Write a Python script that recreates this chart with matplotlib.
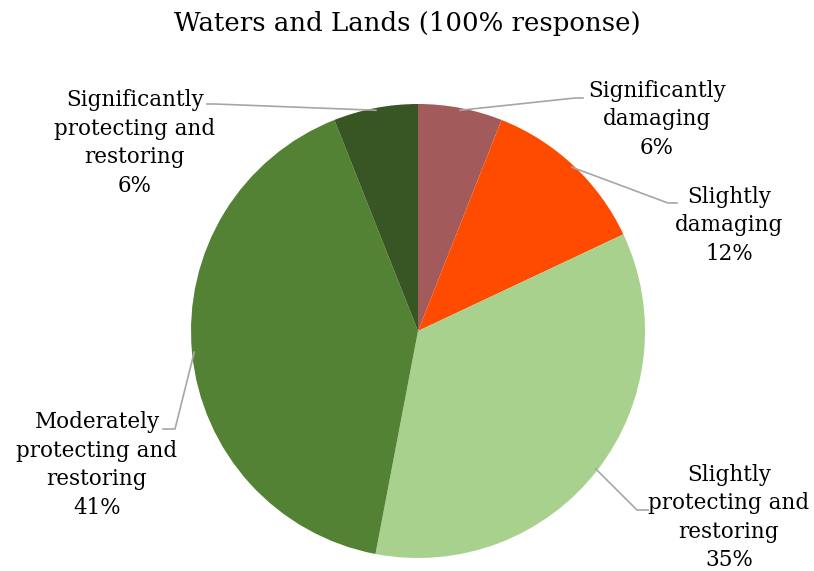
import matplotlib
matplotlib.use("Agg")
import matplotlib.pyplot as plt
import numpy as np

title = "Waters and Lands (100% response)"
labels = ["Significantly\ndamaging", "Slightly\ndamaging",
          "Slightly\nprotecting and\nrestoring", "Moderately\nprotecting and\nrestoring",
          "Significantly\nprotecting and\nrestoring"]
values = [6, 12, 35, 41, 6]
colors = ["#A35A5A", "#FF4B00", "#A9D18E", "#548235", "#375623"]

# label anchor (centre x, first baseline) and leader elbow / end, figure pixels from top-left
label_pos = [(657, 97), (729, 203), (729, 481), (97, 428), (135, 106)]
elbow_pos = [(575, 98), (668, 203), (637, 510), (175, 429), (215, 104)]
end_pos = [(583, 98), (677, 203), (648, 510), (163, 429), (207, 104)]
line_step = 28.5

W, H = 814, 571
fig = plt.figure(figsize=(W / 100, H / 100), dpi=100)
cx, cy, r = 418, 331, 227
ax = fig.add_axes([(cx - r) / W, 1 - (cy + r) / H, 2 * r / W, 2 * r / H])
wedges, _ = ax.pie(values, colors=colors, startangle=90, counterclock=False,
                   wedgeprops=dict(linewidth=0))
ax.set_xlim(-1, 1)
ax.set_ylim(-1, 1)
ax.set_aspect("equal")
ax.axis("off")

fig.text(0.5, 1 - 24 / H, title, ha="center", va="center", family="DejaVu Serif", fontsize=18.7)

for w, lab, v, lp, ep, en in zip(wedges, labels, values, label_pos, elbow_pos, end_pos):
    ang = np.deg2rad((w.theta1 + w.theta2) / 2)
    px, py = 0.99 * np.cos(ang), 0.99 * np.sin(ang)
    # leader line: wedge edge -> elbow -> end
    x0, y0 = ax.transData.transform((px, py))
    xs = [x0, ep[0], en[0]]
    ys = [y0, H - ep[1], H - en[1]]
    fig.add_artist(plt.Line2D(np.array(xs) / W, np.array(ys) / H, color="#A6A6A6", lw=1.2,
                              transform=fig.transFigure))
    for i, line in enumerate(lab.split("\n") + [f"{v}%"]):
        fig.text(lp[0] / W, 1 - (lp[1] + i * line_step) / H, line, ha="center",
                 va="baseline", family="DejaVu Serif", fontsize=15.5)

fig.savefig("out.png", dpi=100)
